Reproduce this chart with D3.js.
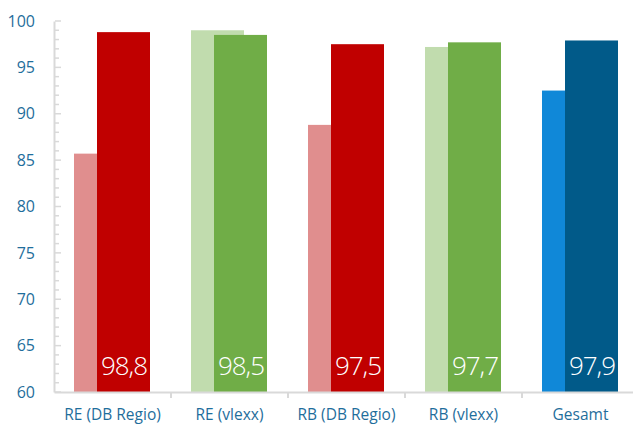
<!DOCTYPE html>
<html>
<head>
<meta charset="utf-8">
<script src="https://cdn.jsdelivr.net/npm/d3@7"></script>
<style>
  body { margin: 0; background: #fff; }
  text { font-family: "Open Sans", sans-serif; }
</style>
</head>
<body>
<div id="chart"></div>
<script>
      var w = 633;
      var h = 428;

      var categories = ['RE (DB Regio)', 'RE (vlexx)', 'RB (DB Regio)', 'RB (vlexx)', 'Gesamt'];
      var prevValues = [85.7, 99.0, 88.8, 97.2, 92.5];
      var currValues = [98.8, 98.5, 97.5, 97.7, 97.9];
      var yTicks = [60, 65, 70, 75, 80, 85, 90, 95, 100];
      var lightColors = ['#e08e8e', '#c1dcae', '#e08e8e', '#c1dcae', '#1088d8'];
      var darkColors = ['#c00000', '#70ad47', '#c00000', '#70ad47', '#015a89'];

      var data = categories.map(function(c, i) {
        return { cat: c, prev: prevValues[i], curr: currValues[i], light: lightColors[i], dark: darkColors[i] };
      });

      var x = d3.scaleBand()
                .domain(categories)
                .range([54, 639])
                .paddingInner(0);

      var y = d3.scaleLinear()
                .domain([60, 100])
                .range([392, 21]);

      var barW = 53;

      var svg = d3.select("#chart")
            .append("svg")
            .attr("width", w)
            .attr("height", h);

      // previous-year bars (light)
      svg.selectAll("rect.prev")
         .data(data)
         .enter()
         .append("rect")
         .attr("class", "prev")
         .attr("x", function(d) { return x(d.cat) + 20; })
         .attr("y", function(d) { return y(d.prev); })
         .attr("width", barW)
         .attr("height", function(d) { return y(60) - y(d.prev); })
         .attr("fill", function(d) { return d.light; });

      // current bars (dark)
      svg.selectAll("rect.curr")
         .data(data)
         .enter()
         .append("rect")
         .attr("class", "curr")
         .attr("x", function(d) { return x(d.cat) + 43; })
         .attr("y", function(d) { return y(d.curr); })
         .attr("width", barW)
         .attr("height", function(d) { return y(60) - y(d.curr); })
         .attr("fill", function(d) { return d.dark; });

      // value labels
      svg.selectAll("text.val")
         .data(data)
         .enter()
         .append("text")
         .attr("class", "val")
         .attr("x", function(d) { return x(d.cat) + 43 + barW - 3; })
         .attr("y", 375)
         .attr("text-anchor", "end")
         .attr("fill", "#fff")
         .style("font-size", "26px")
         .style("font-weight", 300)
         .style("letter-spacing", "-1px")
         .text(function(d) { return String(d.curr).replace(".", ","); });

      // Y axis
      var yAxis = d3.axisLeft(y)
                    .tickValues(yTicks)
                    .tickSize(0)
                    .tickPadding(19);

      var gy = svg.append("g")
         .attr("transform", "translate(54,0)")
         .call(yAxis);
      gy.select(".domain").attr("stroke", "#d9d9d9").attr("stroke-width", 2);
      gy.selectAll("text")
        .attr("fill", "#1f6e9c")
        .style("font-size", "16px");

      // minor ticks
      svg.append("g")
         .selectAll("line")
         .data(d3.range(60, 101))
         .enter()
         .append("line")
         .attr("x1", 55)
         .attr("x2", function(d) { return d % 5 === 0 ? 61 : 59; })
         .attr("y1", function(d) { return y(d); })
         .attr("y2", function(d) { return y(d); })
         .attr("stroke", "#d9d9d9")
         .attr("stroke-width", 1.5);

      // X axis
      var xAxis = d3.axisBottom(x)
                    .tickSize(0)
                    .tickPadding(17);

      var gx = svg.append("g")
         .attr("transform", "translate(0,392)")
         .call(xAxis);
      gx.select(".domain").attr("stroke", "#d9d9d9").attr("stroke-width", 2);
      gx.selectAll("text")
        .attr("fill", "#1f6e9c")
        .style("font-size", "15.5px");

      // category separators
      svg.append("g")
         .selectAll("line")
         .data(categories.slice(1))
         .enter()
         .append("line")
         .attr("x1", function(d) { return x(d); })
         .attr("x2", function(d) { return x(d); })
         .attr("y1", 392)
         .attr("y2", 398)
         .attr("stroke", "#d9d9d9")
         .attr("stroke-width", 2);
</script>
</body>
</html>
